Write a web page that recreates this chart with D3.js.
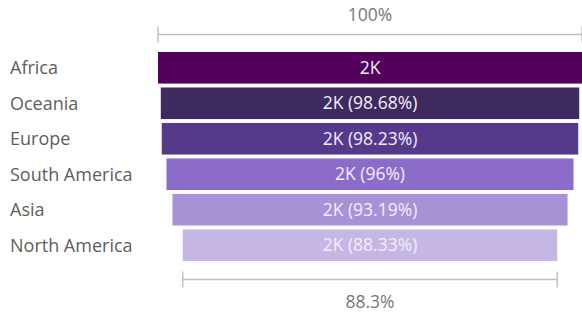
<!DOCTYPE html>
<meta charset="utf-8">
<script src="https://d3js.org/d3.v7.js"></script>
<style>
  body { margin: 0; background: #fff; }
  text { font-family: "Segoe UI", "Open Sans", sans-serif; }
</style>
<div id="my_dataviz"></div>

<script>
    // funnel stages, top to bottom
    var categories = ["Africa", "Oceania", "Europe", "South America", "Asia", "North America"];
    // percent of first stage
    var pctOfFirst = [100, 98.68, 98.23, 96, 93.19, 88.33];
    var valueLabels = ["2K", "2K", "2K", "2K", "2K", "2K"];
    var colors = ["#52005c", "#3d2a5e", "#553a8c", "#8b6cc8", "#a892d6", "#c6b6e4"];
    var topLabel = "100%";
    var bottomLabel = "88.3%";

    var width = 582, height = 314;
    var plotLeft = 158, plotRight = 582;
    var center = (plotLeft + plotRight) / 2;

    var svg = d3.select("#my_dataviz")
        .append("svg")
        .attr("width", width)
        .attr("height", height);

    var w = d3.scaleLinear()
        .domain([0, 100])
        .range([0, plotRight - plotLeft]);

    var y = d3.scaleBand()
        .domain(categories)
        .range([52, 261])
        .paddingInner(0.11);

    var rows = categories.map(function (c, i) {
        return {cat: c, pct: pctOfFirst[i], label: valueLabels[i], color: colors[i]};
    });

    // bars
    svg.selectAll("rect.bar")
        .data(rows)
        .enter()
        .append("rect")
        .attr("class", "bar")
        .attr("x", d => center - w(d.pct) / 2)
        .attr("y", d => y(d.cat))
        .attr("width", d => w(d.pct))
        .attr("height", y.bandwidth())
        .attr("fill", d => d.color);

    // labels inside bars
    svg.selectAll("text.val")
        .data(rows)
        .enter()
        .append("text")
        .attr("class", "val")
        .attr("x", center)
        .attr("y", d => y(d.cat) + y.bandwidth() / 2)
        .attr("dy", "0.35em")
        .attr("text-anchor", "middle")
        .style("font-size", "17.5px")
        .style("fill", "#f3eefa")
        .text((d, i) => i === 0 ? d.label : d.label + " (" + d.pct + "%)");

    // category labels
    svg.selectAll("text.cat")
        .data(rows)
        .enter()
        .append("text")
        .attr("class", "cat")
        .attr("x", 10)
        .attr("y", d => y(d.cat) + y.bandwidth() / 2)
        .attr("dy", "0.35em")
        .style("font-size", "18px")
        .style("fill", "#605e5c")
        .text(d => d.cat);

    // top and bottom range markers
    function marker(pct, yLine, yText, txt) {
        var x0 = center - w(pct) / 2, x1 = center + w(pct) / 2;
        var g = svg.append("g").style("stroke", "#c0c0c0").style("stroke-width", 1.5);
        g.append("line").attr("x1", x0).attr("x2", x1).attr("y1", yLine).attr("y2", yLine);
        g.append("line").attr("x1", x0).attr("x2", x0).attr("y1", yLine - 8).attr("y2", yLine + 8);
        g.append("line").attr("x1", x1).attr("x2", x1).attr("y1", yLine - 8).attr("y2", yLine + 8);
        svg.append("text")
            .attr("x", center)
            .attr("y", yText)
            .attr("dy", "0.35em")
            .attr("text-anchor", "middle")
            .style("font-size", "17.5px")
            .style("fill", "#777")
            .text(txt);
    }
    marker(pctOfFirst[0], 34.5, 15, topLabel);
    marker(pctOfFirst[pctOfFirst.length - 1], 279.5, 302, bottomLabel);
</script>
